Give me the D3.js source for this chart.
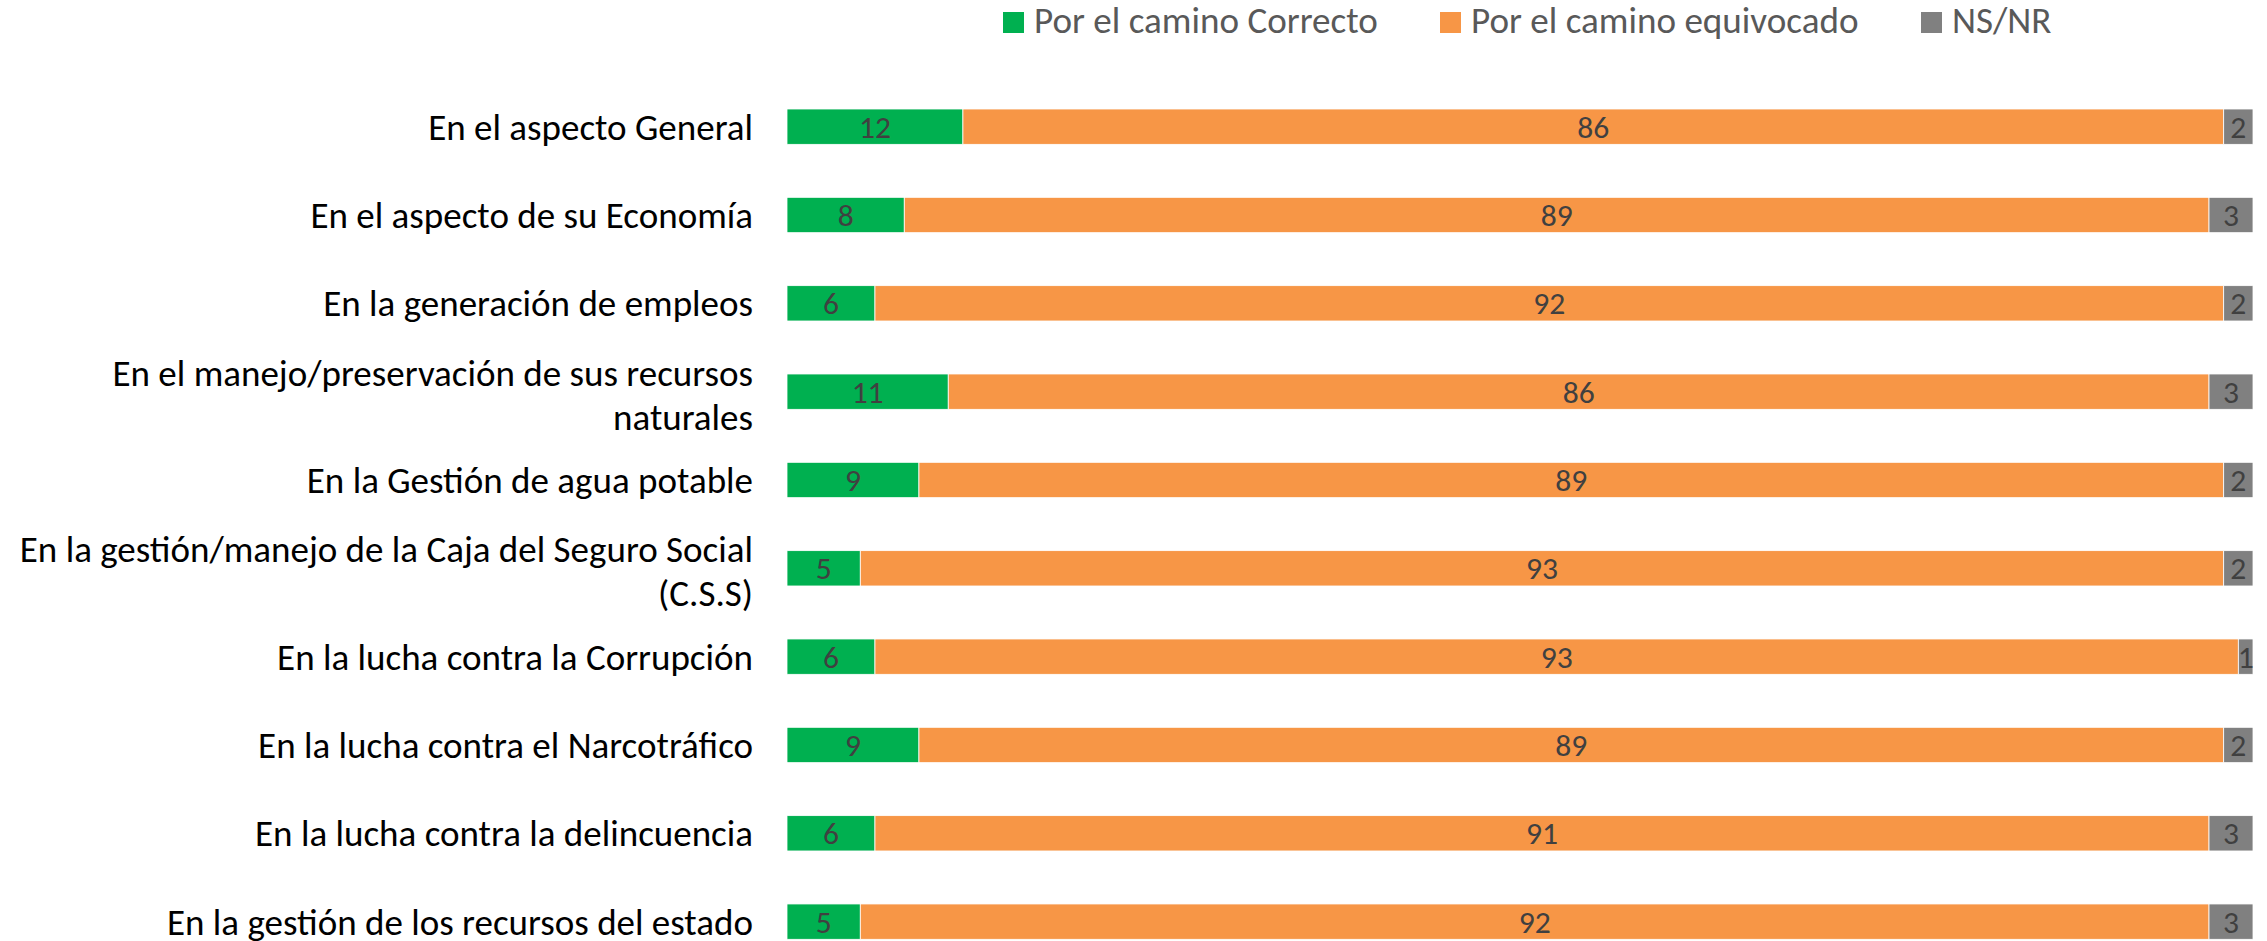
<!DOCTYPE html>
<html>
<head>
<meta charset="utf-8">
<script src="https://cdn.jsdelivr.net/npm/d3@7"></script>
<style>
  html, body { margin: 0; padding: 0; background: #fff; }
  svg { display: block; }
</style>
</head>
<body>
<svg id="chart" width="2267" height="941"></svg>
<script>
const categories = [
  "En el aspecto General",
  "En el aspecto de su Economía",
  "En la generación de empleos",
  "En el manejo/preservación de sus recursos\nnaturales",
  "En la Gestión de agua potable",
  "En la gestión/manejo de la Caja del Seguro Social\n(C.S.S)",
  "En la lucha contra la Corrupción",
  "En la lucha contra el Narcotráfico",
  "En la lucha contra la delincuencia",
  "En la gestión de los recursos del estado"
];
const seriesNames = ["Por el camino Correcto", "Por el camino equivocado", "NS/NR"];
const correcto   = [12, 8, 6, 11, 9, 5, 6, 9, 6, 5];
const equivocado = [86, 89, 92, 86, 89, 93, 93, 89, 91, 92];
const nsnr       = [2, 3, 2, 3, 2, 2, 1, 2, 3, 3];
const colors = ["#00B050", "#F79646", "#808080"];

const FONT = "Carlito, 'Open Sans', 'Noto Sans', sans-serif";
const svg = d3.select("#chart");

// size fonts to fit measured reference text widths
function fitSize(text, target) {
  const t = svg.append("text").attr("font-family", FONT).attr("font-size", 100).text(text);
  const w = t.node().getComputedTextLength();
  t.remove();
  return 100 * target / w;
}
const labelSize = fitSize("En el aspecto General", 325);
const legendSize = fitSize("Por el camino Correcto", 344);
const valueSize = fitSize("86", 32);

const table = categories.map((c, i) => ({cat: c, "0": correcto[i], "1": equivocado[i], "2": nsnr[i]}));
const stack = d3.stack().keys(["0", "1", "2"])(table);

const x = d3.scaleLinear().domain([0, 100]).range([787, 2253]);
const y = d3.scaleBand().domain(categories).range([82.5, 965.8]).paddingInner(0.6).paddingOuter(0.3);

// bars
const layers = svg.append("g").selectAll("g").data(stack).join("g")
  .attr("fill", (d, i) => colors[i]);
layers.selectAll("rect").data(d => d).join("rect")
  .attr("x", d => x(d[0]))
  .attr("y", d => y(d.data.cat))
  .attr("width", d => x(d[1]) - x(d[0]))
  .attr("height", y.bandwidth())
  .attr("stroke", "#ffffff")
  .attr("stroke-width", 0.8);

// value labels
layers.selectAll("text").data(d => d).join("text")
  .attr("x", d => (x(d[0]) + x(d[1])) / 2)
  .attr("y", d => y(d.data.cat) + y.bandwidth() / 2)
  .attr("dy", "0.35em")
  .attr("text-anchor", "middle")
  .attr("font-family", FONT)
  .attr("font-size", valueSize)
  .attr("fill", "#404040")
  .text(d => d[1] - d[0]);

// category axis (labels only)
const yAxis = d3.axisLeft(y).tickSize(0).tickPadding(0).tickFormat("");
const axisG = svg.append("g").attr("transform", "translate(753,0)").call(yAxis);
axisG.select(".domain").remove();
const lineH = 44;
axisG.selectAll(".tick").each(function(d) {
  const lines = d.split("\n");
  const g = d3.select(this);
  const off = -(lines.length - 1) * lineH / 2 + (lines.length > 1 ? 3 : 0);
  const t = g.append("text")
    .attr("text-anchor", "end")
    .attr("font-family", FONT)
    .attr("font-size", labelSize)
    .attr("fill", "#000000");
  lines.forEach((ln, k) => {
    t.append("tspan").attr("x", 0).attr("y", off + k * lineH).attr("dy", "0.35em").text(ln);
  });
});

// legend
const legendX = [1003, 1440, 1921];
const lg = svg.append("g").selectAll("g").data(seriesNames).join("g")
  .attr("transform", (d, i) => `translate(${legendX[i]},12)`);
lg.append("rect").attr("width", 21).attr("height", 21).attr("fill", (d, i) => colors[i]);
lg.append("text")
  .attr("x", 31).attr("y", 21)
  .attr("font-family", FONT)
  .attr("font-size", legendSize)
  .attr("fill", "#595959")
  .text(d => d);
</script>
</body>
</html>
